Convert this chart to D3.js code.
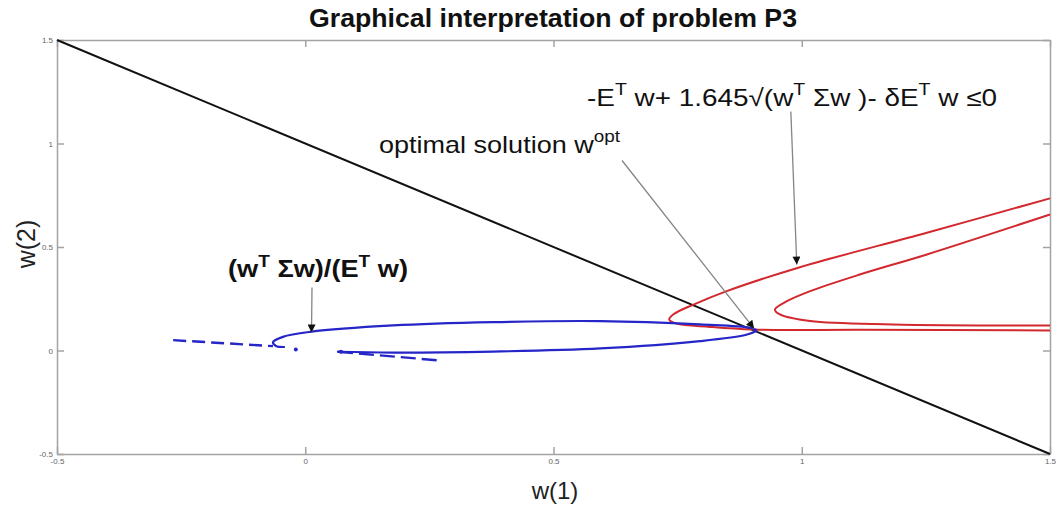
<!DOCTYPE html>
<html>
<head>
<meta charset="utf-8">
<script src="https://cdn.jsdelivr.net/npm/d3@7"></script>
<style>
    body { margin: 0; background: #fff; }
    svg { display: block; font-family: "Liberation Sans", Arial, sans-serif; }
    .axis path, .axis line { stroke: #a3a3a3; stroke-width: 1.5; }
    .axis text { font-size: 8px; fill: #666; }
    text { white-space: pre; }
</style>
</head>
<body>
<div id="chart"></div>
<script>
// tick values and labels
const xTicks = [-0.5, 0, 0.5, 1, 1.5];
const xTickLabels = ["-0.5", "0", "0.5", "1", "1.5"];
const yTicks = [-0.5, 0, 0.5, 1, 1.5];
const yTickLabels = ["-0.5", "0", "0.5", "1", "1.5"];

// budget line w1 + w2 = 1
const budgetLine = [[-0.5, 1.5], [1.5, -0.5]];

// blue contour (w'Sw)/(E'w)
const blueUpper = [[0.910, 0.097], [0.896, 0.110], [0.795, 0.126], [0.594, 0.142], [0.378, 0.137],
    [0.177, 0.121], [0.010, 0.090], [-0.045, 0.066], [-0.065, 0.040], [-0.059, 0.022], [-0.041, 0.017]];
const blueLower = [[0.064, -0.006], [0.177, -0.010], [0.378, -0.005], [0.594, 0.010],
    [0.795, 0.045], [0.890, 0.077], [0.910, 0.097]];
const blueDashLeft = [[-0.266, 0.050], [-0.065, 0.021]];
const blueDashRight = [[0.066, -0.006], [0.265, -0.047]];
const blueDots = [[-0.019, 0.005], [0.072, -0.006]];

// red constraint contours
const redOuter = [[1.5, 0.735], [1.252, 0.569], [0.993, 0.400], [0.849, 0.287], [0.782, 0.222],
    [0.741, 0.174], [0.733, 0.150], [0.748, 0.130], [0.815, 0.114], [0.902, 0.101], [1.117, 0.100], [1.5, 0.097]];
const redInner = [[1.5, 0.657], [1.252, 0.464], [1.117, 0.367], [1.017, 0.287], [0.970, 0.238],
    [0.946, 0.198], [0.956, 0.174], [1.017, 0.142], [1.184, 0.126], [1.5, 0.121]];

// annotation arrows (data units)
const arrows = [
    { from: [0.0136, 0.304], to: [0.0126, 0.087] },
    { from: [0.978, 1.155], to: [0.990, 0.415] },
    { from: [0.638, 0.918], to: [0.904, 0.106] }
];

const width = 1056;
const height = 506;
const plot = { left: 57, right: 1050, top: 40, bottom: 454 };
const tickLen = 7;

const svg = d3.select("#chart")
    .append("svg")
    .attr("width", width)
    .attr("height", height);

const x = d3.scaleLinear().domain([-0.5, 1.5]).range([plot.left, plot.right]);
const y = d3.scaleLinear().domain([-0.5, 1.5]).range([plot.bottom, plot.top]);

svg.append("defs").append("marker")
    .attr("id", "head")
    .attr("viewBox", "0 0 10 10")
    .attr("refX", 10)
    .attr("refY", 5)
    .attr("markerWidth", 9)
    .attr("markerHeight", 8)
    .attr("markerUnits", "userSpaceOnUse")
    .attr("orient", "auto")
    .append("path")
    .attr("d", "M0,0 L10,5 L0,10 z")
    .attr("fill", "#111");

// axes box with inward ticks
svg.append("g").attr("class", "axis")
    .attr("transform", `translate(0,${plot.bottom})`)
    .call(d3.axisBottom(x).tickValues(xTicks).tickFormat((d, i) => xTickLabels[i])
        .tickSizeInner(-tickLen).tickSizeOuter(0).tickPadding(4));
svg.append("g").attr("class", "axis")
    .attr("transform", `translate(0,${plot.top})`)
    .call(d3.axisTop(x).tickValues(xTicks).tickFormat("")
        .tickSizeInner(-tickLen).tickSizeOuter(0));
svg.append("g").attr("class", "axis")
    .attr("transform", `translate(${plot.left},0)`)
    .call(d3.axisLeft(y).tickValues(yTicks).tickFormat((d, i) => yTickLabels[i])
        .tickSizeInner(-tickLen).tickSizeOuter(0).tickPadding(4));
svg.append("g").attr("class", "axis")
    .attr("transform", `translate(${plot.right},0)`)
    .call(d3.axisRight(y).tickValues(yTicks).tickFormat("")
        .tickSizeInner(-tickLen).tickSizeOuter(0));

const line = d3.line().x(d => x(d[0])).y(d => y(d[1]));
const smooth = d3.line().x(d => x(d[0])).y(d => y(d[1])).curve(d3.curveCatmullRom.alpha(0.5));

const addPath = (pts, gen, color, w, dash) => {
    svg.append("path")
        .attr("d", gen(pts))
        .attr("fill", "none")
        .attr("stroke", color)
        .attr("stroke-width", w)
        .attr("stroke-dasharray", dash || null)
        .attr("stroke-linejoin", "round");
};

const blue = "#2525c8";
const red = "#d2282e";

addPath(budgetLine, line, "#111", 2);
addPath(redOuter, smooth, red, 2);
addPath(redInner, smooth, red, 2);
addPath(blueUpper, smooth, blue, 2.2);
addPath(blueLower, smooth, blue, 2.2);
addPath(blueDashLeft, line, blue, 2.4, "13,6");
addPath(blueDashRight, line, blue, 2.4, "15,6");
blueDots.forEach(d => {
    svg.append("circle")
        .attr("cx", x(d[0]))
        .attr("cy", y(d[1]))
        .attr("r", 2)
        .attr("fill", blue);
});

arrows.forEach(a => {
    svg.append("line")
        .attr("x1", x(a.from[0]))
        .attr("y1", y(a.from[1]))
        .attr("x2", x(a.to[0]))
        .attr("y2", y(a.to[1]))
        .attr("stroke", "#858585")
        .attr("stroke-width", 1.3)
        .attr("marker-end", "url(#head)");
});

// text with ^superscript parts, squeezed to the width seen in the picture
const richText = (px, py, parts, size, weight, len) => {
    const t = svg.append("text")
        .attr("x", px)
        .attr("y", py)
        .attr("font-size", size)
        .attr("font-weight", weight)
        .attr("fill", "#111")
        .attr("textLength", len)
        .attr("lengthAdjust", "spacingAndGlyphs");
    let raised = false;
    parts.forEach(p => {
        const sup = p.startsWith("^");
        const s = t.append("tspan").text(sup ? p.slice(1) : p);
        if (sup) s.attr("font-size", size * 0.7);
        if (sup && !raised) { s.attr("dy", -size * 0.45); raised = true; }
        else if (!sup && raised) { s.attr("dy", size * 0.45); raised = false; }
    });
    return t;
};

richText(228, 277, ["(w", "^T", " Σw)/(E", "^T", " w)"], 23, "bold", 180);
richText(587, 106, ["-E", "^T", " w+ 1.645√(w", "^T", " Σw )- δE", "^T", " w ≤0"], 24, "normal", 410);
richText(379, 153, ["optimal solution w", "^opt"], 24, "normal", 241);

svg.append("text")
    .attr("x", 553)
    .attr("y", 27)
    .attr("text-anchor", "middle")
    .attr("font-family", "'Liberation Sans Narrow', 'Liberation Sans', Arial, sans-serif")
    .attr("font-size", 25)
    .attr("font-weight", "bold")
    .attr("fill", "#111")
    .attr("textLength", 488)
    .attr("lengthAdjust", "spacingAndGlyphs")
    .text("Graphical interpretation of problem P3");

svg.append("text")
    .attr("x", 555)
    .attr("y", 499)
    .attr("text-anchor", "middle")
    .attr("font-size", 24)
    .attr("fill", "#222")
    .text("w(1)");

svg.append("text")
    .attr("transform", "translate(35,244) rotate(-90)")
    .attr("text-anchor", "middle")
    .attr("font-size", 25)
    .attr("fill", "#222")
    .text("w(2)");
</script>
</body>
</html>
